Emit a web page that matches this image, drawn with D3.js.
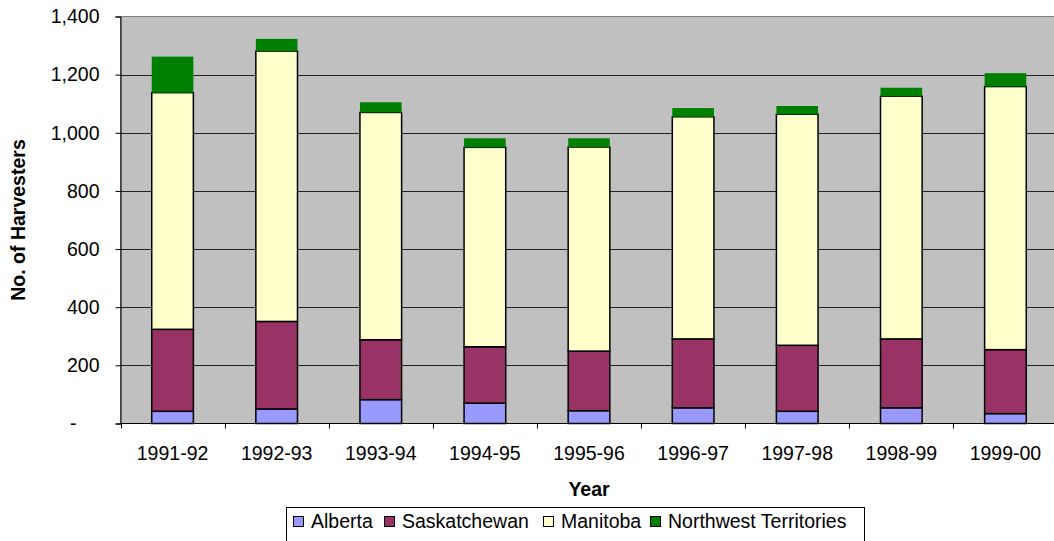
<!DOCTYPE html>
<html>
<head>
<meta charset="utf-8">
<script src="https://cdn.jsdelivr.net/npm/d3@7"></script>
<style>
  body { margin: 0; background: #fff; }
  text { font-family: "Liberation Sans", Arial, sans-serif; }
</style>
</head>
<body>
<div id="stacked"></div>
<script>
/* data */
var years = ["1991-92", "1992-93", "1993-94", "1994-95", "1995-96", "1996-97", "1997-98", "1998-99", "1999-00"];
var alberta = [42, 50, 82, 70, 44, 54, 42, 54, 34];
var saskatchewan = [282, 301, 206, 194, 205, 237, 227, 237, 220];
var manitoba = [814, 930, 782, 686, 702, 764, 795, 835, 905];
var northwest = [124, 42, 35, 31, 30, 30, 28, 29, 46];
var provinces = ["Alberta", "Saskatchewan", "Manitoba", "Northwest Territories"];
var yTicks = [0, 200, 400, 600, 800, 1000, 1200, 1400];

var colors = ["#9999ff", "#993366", "#ffffcc", "#008000"];

var data = years.map(function(y, i) {
    return { "Year": y, "Alberta": alberta[i], "Saskatchewan": saskatchewan[i],
             "Manitoba": manitoba[i], "Northwest Territories": northwest[i] };
});

var width = 1054,
    height = 541,
    fontSize = 19.5;

var x = d3.scaleBand()
    .domain(years)
    .range([120.5, 1057.5]);

var y = d3.scaleLinear()
    .domain([0, 1400])
    .range([423.5, 16.5]);

var color = d3.scaleOrdinal().domain(provinces).range(colors);

var rows = d3.stack().keys(provinces)(data);

var svg = d3.select("#stacked")
    .append("svg")
    .attr("width", width)
    .attr("height", height);

/* plot area */
svg.append("rect")
    .attr("x", x.range()[0])
    .attr("y", y(1400))
    .attr("width", x.range()[1] - x.range()[0])
    .attr("height", y(0) - y(1400))
    .attr("fill", "#c0c0c0")
    .attr("stroke", "#808080");

/* gridlines */
svg.append("g")
    .selectAll("line")
    .data(yTicks.slice(1, -1))
    .enter().append("line")
        .attr("x1", x.range()[0])
        .attr("x2", x.range()[1])
        .attr("y1", function(d) { return Math.round(y(d)) + 0.5; })
        .attr("y2", function(d) { return Math.round(y(d)) + 0.5; })
        .attr("stroke", "#222");

/* stacked bars */
var barW = x.bandwidth() / 2.5;
svg.append("g")
    .selectAll("g")
    .data(rows)
    .enter().append("g")
        .attr("fill", function(d) { return color(d.key); })
        .attr("stroke", function(d) { return d.key === "Northwest Territories" ? "none" : "#000"; })
        .attr("stroke-width", 1.5)
    .selectAll("rect")
    .data(function(d) { return d; })
    .enter().append("rect")
        .attr("x", function(d) { return x(d.data["Year"]) + (x.bandwidth() - barW) / 2; })
        .attr("y", function(d) { return y(d[1]); })
        .attr("height", function(d) { return y(d[0]) - y(d[1]); })
        .attr("width", barW);

/* y axis */
var yAxis = d3.axisLeft(y)
    .tickValues(yTicks)
    .tickSize(5)
    .tickPadding(16)
    .tickFormat(function(d) { return d === 0 ? "-" : d3.format(",")(d); });

var gy = svg.append("g")
    .attr("transform", "translate(" + x.range()[0] + ",0)")
    .call(yAxis);
gy.select(".domain").attr("stroke", "#000");
gy.selectAll("line").attr("stroke", "#000");
gy.selectAll("text")
    .attr("font-size", fontSize)
    .attr("font-family", null)
    .attr("fill", "#000");
gy.selectAll(".tick").filter(function(d) { return d === 0; })
    .select("text").attr("x", -44);

/* x axis: ticks sit between the categories */
var gx = svg.append("g")
    .attr("transform", "translate(0," + y(0) + ")");
gx.append("line")
    .attr("x1", x.range()[0])
    .attr("x2", x.range()[1])
    .attr("stroke", "#000");
gx.selectAll(".sep")
    .data(years)
    .enter().append("line")
        .attr("class", "sep")
        .attr("x1", function(d) { return Math.round(x(d)) + 0.5; })
        .attr("x2", function(d) { return Math.round(x(d)) + 0.5; })
        .attr("y2", 5)
        .attr("stroke", "#000");
gx.selectAll("text")
    .data(years)
    .enter().append("text")
        .attr("x", function(d) { return x(d) + x.bandwidth() / 2; })
        .attr("y", 36)
        .attr("text-anchor", "middle")
        .attr("font-size", fontSize)
        .text(function(d) { return d; });

/* axis titles */
svg.append("text")
    .attr("transform", "translate(589,496)")
    .attr("text-anchor", "middle")
    .attr("font-size", fontSize)
    .attr("font-weight", "bold")
    .text("Year");

svg.append("text")
    .attr("transform", "translate(25,220)rotate(-90)")
    .attr("text-anchor", "middle")
    .attr("font-size", fontSize)
    .attr("font-weight", "bold")
    .text("No. of Harvesters");

/* legend */
var legendX = [293, 384, 543, 650];
var legend = svg.append("g").attr("class", "legend");
legend.append("rect")
    .attr("x", 286.5)
    .attr("y", 507.5)
    .attr("width", 578)
    .attr("height", 40)
    .attr("fill", "#fff")
    .attr("stroke", "#000");

var note = legend.selectAll("g")
    .data(provinces)
    .enter().append("g")
        .attr("transform", function(d, i) { return "translate(" + legendX[i] + ",516)"; });
note.append("rect")
    .attr("x", 0.5)
    .attr("y", 0.5)
    .attr("width", 10)
    .attr("height", 10)
    .attr("fill", color)
    .attr("stroke", "#000");
note.append("text")
    .attr("x", 18)
    .attr("y", 12)
    .attr("font-size", fontSize)
    .text(function(d) { return d; });
</script>
</body>
</html>
